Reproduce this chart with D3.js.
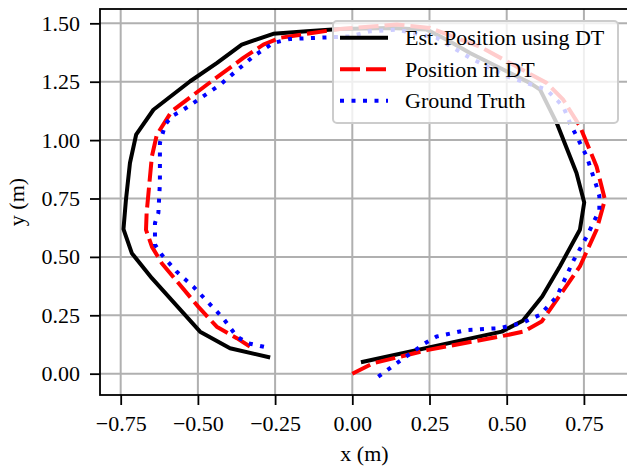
<!DOCTYPE html>
<html>
<head>
<meta charset="utf-8">
<script src="https://cdn.jsdelivr.net/npm/d3@7"></script>
<style>
  body { margin: 0; background: #fff; }
  text { font-family: "Liberation Serif", "DejaVu Serif", serif; }
</style>
</head>
<body>
<div id="chart"></div>
<script>
// trajectories (metres)
var estPosition = [[0.028,0.049],[0.484,0.18],[0.552,0.227],[0.615,0.33],[0.672,0.459],[0.737,0.616],[0.751,0.733],[0.726,0.859],[0.662,1.073],[0.608,1.216],[0.575,1.245],[0.467,1.316],[0.381,1.373],[0.306,1.43],[0.241,1.473],[0.122,1.48],[-0.04,1.476],[-0.148,1.466],[-0.256,1.455],[-0.358,1.409],[-0.439,1.33],[-0.525,1.252],[-0.644,1.13],[-0.70,1.023],[-0.72,0.902],[-0.733,0.744],[-0.741,0.619],[-0.714,0.516],[-0.649,0.409],[-0.493,0.18],[-0.396,0.109],[-0.266,0.069]];

var dtPosition = [[0,0],[0.068,0.045],[0.246,0.102],[0.478,0.159],[0.554,0.18],[0.613,0.223],[0.662,0.316],[0.737,0.459],[0.791,0.616],[0.818,0.745],[0.791,0.887],[0.737,1.059],[0.683,1.173],[0.629,1.245],[0.413,1.40],[0.252,1.48],[0.144,1.495],[-0.04,1.476],[-0.234,1.438],[-0.288,1.409],[-0.353,1.352],[-0.471,1.237],[-0.585,1.123],[-0.633,1.023],[-0.649,0.93],[-0.666,0.688],[-0.668,0.616],[-0.649,0.544],[-0.617,0.473],[-0.499,0.287],[-0.439,0.201],[-0.374,0.152],[-0.331,0.116]];

var groundTruth = [[0.084,-0.013],[0.144,0.045],[0.235,0.13],[0.273,0.159],[0.37,0.187],[0.478,0.195],[0.548,0.216],[0.608,0.252],[0.662,0.33],[0.716,0.484],[0.759,0.587],[0.80,0.70],[0.80,0.76],[0.791,0.802],[0.759,0.93],[0.705,1.073],[0.683,1.144],[0.629,1.216],[0.5,1.273],[0.381,1.352],[0.273,1.438],[0.144,1.473],[0.057,1.466],[-0.007,1.444],[-0.202,1.433],[-0.256,1.416],[-0.32,1.359],[-0.428,1.237],[-0.547,1.13],[-0.585,1.102],[-0.606,1.066],[-0.623,0.988],[-0.623,0.816],[-0.628,0.688],[-0.639,0.645],[-0.639,0.552],[-0.617,0.509],[-0.569,0.437],[-0.515,0.373],[-0.418,0.237],[-0.374,0.159],[-0.337,0.13],[-0.266,0.109]];

var xTicks = [-0.75, -0.5, -0.25, 0, 0.25, 0.5, 0.75];
var yTicks = [0, 0.25, 0.5, 0.75, 1.0, 1.25, 1.5];
var seriesNames = ["Est. Position using DT", "Position in DT", "Ground Truth"];

window.onload = drawChart;

function drawChart(){
    var width = 627, height = 468;
    var left = 100, top = 9, plotW = 529, plotH = 386;
    var serif = "'Liberation Serif', 'DejaVu Serif', serif";

    var svg = d3.select("#chart")
        .append("svg")
        .attr("width", width)
        .attr("height", height);

    var x = d3.scaleLinear().domain([-0.817, 0.896]).range([left, left + plotW]);
    var y = d3.scaleLinear().domain([-0.0913, 1.5613]).range([top + plotH, top]);

    // grid
    svg.append("g").selectAll("line")
        .data(xTicks).enter().append("line")
        .attr("x1", function(d){ return x(d); })
        .attr("x2", function(d){ return x(d); })
        .attr("y1", top).attr("y2", top + plotH)
        .attr("stroke", "#b0b0b0").attr("stroke-width", 2);
    svg.append("g").selectAll("line")
        .data(yTicks).enter().append("line")
        .attr("y1", function(d){ return y(d); })
        .attr("y2", function(d){ return y(d); })
        .attr("x1", left).attr("x2", left + plotW)
        .attr("stroke", "#b0b0b0").attr("stroke-width", 2);

    var line = d3.line()
        .x(function(d){ return x(d[0]); })
        .y(function(d){ return y(d[1]); });

    var styles = [
        {data: estPosition, color: "#000", dash: null},
        {data: dtPosition, color: "#ff0000", dash: "20,6"},
        {data: groundTruth, color: "#0000ff", dash: "4,7.5"}
    ];

    styles.forEach(function(s){
        svg.append("path")
            .datum(s.data)
            .attr("d", line)
            .attr("fill", "none")
            .attr("stroke", s.color)
            .attr("stroke-width", 4)
            .attr("stroke-dasharray", s.dash)
            .attr("stroke-linejoin", "round");
    });

    // axes
    var fmt = d3.format(".2f");
    var xAxis = svg.append("g")
        .attr("transform", "translate(0," + (top + plotH) + ")")
        .call(d3.axisBottom(x).tickValues(xTicks).tickFormat(fmt).tickSize(10).tickPadding(10));
    var yAxis = svg.append("g")
        .attr("transform", "translate(" + left + ",0)")
        .call(d3.axisLeft(y).tickValues(yTicks).tickFormat(fmt).tickSize(10).tickPadding(10));

    [xAxis, yAxis].forEach(function(a){
        a.attr("font-family", serif).attr("font-size", 22);
        a.select(".domain").remove();
        a.selectAll(".tick line").attr("stroke", "#000").attr("stroke-width", 1.8);
        a.selectAll(".tick text")
            .attr("fill", "#000")
            .style("font-family", serif)
            .style("font-size", "22px");
    });

    // spines
    svg.append("rect")
        .attr("x", left).attr("y", top)
        .attr("width", plotW).attr("height", plotH)
        .attr("fill", "none")
        .attr("stroke", "#000")
        .attr("stroke-width", 1.8);

    // axis labels
    svg.append("text")
        .attr("x", left + plotW / 2)
        .attr("y", 461)
        .attr("text-anchor", "middle")
        .style("font-family", serif)
        .style("font-size", "22px")
        .text("x (m)");
    svg.append("text")
        .attr("transform", "translate(24," + (top + plotH / 2) + ") rotate(-90)")
        .attr("text-anchor", "middle")
        .style("font-family", serif)
        .style("font-size", "22px")
        .text("y (m)");

    // legend
    var legend = svg.append("g");
    legend.append("rect")
        .attr("x", 333).attr("y", 21)
        .attr("width", 285).attr("height", 102)
        .attr("rx", 4)
        .attr("fill", "#fff").attr("fill-opacity", 0.8)
        .attr("stroke", "#cccccc").attr("stroke-width", 2);

    var item = legend.selectAll(".legendItem")
        .data(styles)
        .enter().append("g")
        .attr("class", "legendItem")
        .attr("transform", function(d, i){ return "translate(0," + (37.7 + i * 31.5) + ")"; });

    item.append("line")
        .attr("x1", 340).attr("x2", 388)
        .attr("stroke", function(d){ return d.color; })
        .attr("stroke-width", 4)
        .attr("stroke-dasharray", function(d){ return d.dash; });

    item.append("text")
        .attr("x", 405)
        .attr("dy", "0.35em")
        .style("font-family", serif)
        .style("font-size", "22px")
        .text(function(d, i){ return seriesNames[i]; });
}
</script>
</body>
</html>
